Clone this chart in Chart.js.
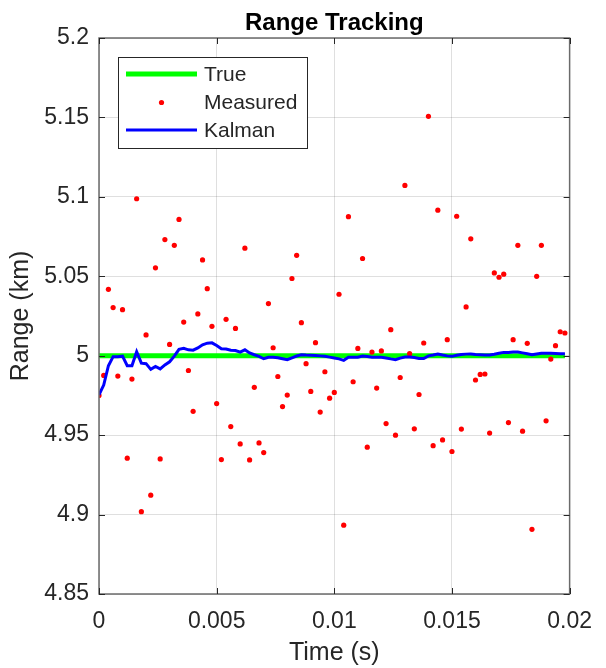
<!DOCTYPE html>
<html>
<head>
<meta charset="utf-8">
<script src="https://cdn.jsdelivr.net/npm/chart.js@4.4.1/dist/chart.umd.min.js"></script>
<style>
  html, body { margin: 0; padding: 0; background: #ffffff; }
  #wrap { width: 606px; height: 668px; }
</style>
</head>
<body>
<div id="wrap"><canvas id="rangeChart" width="606" height="668"></canvas></div>
<script>
// sample spacing of the filter (s)
var dt = 0.0002;

var measured = [
  4.975, 4.9876, 5.0418, 5.0303, 4.9872, 5.029, 4.9355, 4.9853, 5.0988, 4.9018,
  5.0131, 4.9122, 5.0553, 4.935, 5.0731, 5.0071, 5.0695, 5.0858, 5.0212, 4.9907,
  4.965, 5.0263, 5.0603, 5.0422, 5.0185, 4.9699, 4.9346, 5.0229, 4.9554, 5.0172,
  4.9445, 5.0677, 4.9344, 4.9801, 4.9451, 4.939, 5.0328, 5.005, 4.9869, 4.968,
  4.9752, 5.0486, 5.0632, 5.0208, 4.995, 4.9775, 5.0082, 4.9645, 4.9899, 4.9733,
  4.9769, 5.0387, 4.8933, 5.0875, 4.9836, 5.0046, 5.0612, 4.9424, 5.0023, 4.9796,
  5.003, 4.9573, 5.0164, 4.95, 4.9863, 5.1072, 5.0013, 4.954, 4.9756, 5.008,
  5.1507, 4.9434, 5.0916, 4.947, 5.0101, 4.9397, 5.0878, 4.9538, 5.0307, 5.0736,
  4.9847, 4.9882, 4.9885, 4.9513, 5.0521, 5.0494, 5.0513, 4.9579, 5.0101, 5.0695,
  4.9525, 5.0078, 4.8907, 5.05, 5.0695, 4.959, 4.9979, 5.0063, 5.0151, 5.0143
];

var kalman = [
  4.9754, 4.9815, 4.9937, 4.9994, 4.9994, 4.9997, 4.9937, 4.9937, 5.0025, 4.9953,
  4.995, 4.9914, 4.9932, 4.9917, 4.9942, 4.9962, 4.9997, 5.004, 5.0047, 5.0037,
  5.0035, 5.0049, 5.0069, 5.0079, 5.0081, 5.0064, 5.0044, 5.0042, 5.0034, 5.0033,
  5.0023, 5.0037, 5.0017, 5.0006, 4.9996, 4.9981, 4.999, 4.9991, 4.9987, 4.9981,
  4.9975, 4.9987, 4.9998, 5.0006, 5.0004, 5.0003, 5.0002, 4.9999, 4.9996, 4.9991,
  4.9986, 4.998, 4.9971, 4.999, 4.9991, 4.9991, 4.9998, 4.9995, 4.9991, 4.9991,
  4.999, 4.9986, 4.998, 4.9975, 4.9985, 4.9992, 4.9992, 4.9989, 4.9983, 4.9982,
  4.9999, 5.0004, 5.001, 5.0004, 4.9999, 4.9996, 5.0003, 5.0008, 5.001, 5.0011,
  5.0008, 5.0006, 5.0004, 5.0004, 5.0009, 5.0016, 5.0021, 5.0021, 5.0023, 5.0023,
  5.0018, 5.0012, 5.0006, 5.0011, 5.0016, 5.0016, 5.0015, 5.0014, 5.0013, 5.0013
];

// true range is constant over the run
var trueTimes = [0, 0.0198];
var trueRange = [5, 5];

var xTicks = [0, 0.005, 0.01, 0.015, 0.02];
var xTickLabels = ["0", "0.005", "0.01", "0.015", "0.02"];
var yTicks = [4.85, 4.9, 4.95, 5, 5.05, 5.1, 5.15, 5.2];
var yTickLabels = ["4.85", "4.9", "4.95", "5", "5.05", "5.1", "5.15", "5.2"];

var FONT = "'Liberation Sans', Arial, Helvetica, sans-serif";
var AXIS_COLOR = "#262626";

function toPoints(xs, ys) {
  var pts = [];
  for (var i = 0; i < ys.length; i++) pts.push({ x: xs[i], y: ys[i] });
  return pts;
}
var times = [];
for (var i = 0; i < measured.length; i++) times.push(i * dt);

// box round the axes with inward ticks, like the original figure
var framePlugin = {
  id: "frame",
  afterDatasetsDraw: function (chart) {
    var ctx = chart.ctx, a = chart.chartArea;
    var xs = chart.scales.x, ys = chart.scales.y;
    var tl = 6;
    ctx.save();
    ctx.strokeStyle = "#6b6b6b";
    ctx.lineWidth = 1.5;
    ctx.strokeRect(a.left, a.top, a.right - a.left, a.bottom - a.top);
    ctx.strokeStyle = AXIS_COLOR;
    ctx.lineWidth = 1;
    ctx.beginPath();
    xTicks.forEach(function (v) {
      var px = Math.round(xs.getPixelForValue(v)) + 0.5;
      ctx.moveTo(px, a.bottom); ctx.lineTo(px, a.bottom - tl);
      ctx.moveTo(px, a.top); ctx.lineTo(px, a.top + tl);
    });
    yTicks.forEach(function (v) {
      var py = Math.round(ys.getPixelForValue(v)) + 0.5;
      ctx.moveTo(a.left, py); ctx.lineTo(a.left + tl, py);
      ctx.moveTo(a.right, py); ctx.lineTo(a.right - tl, py);
    });
    ctx.stroke();
    ctx.restore();
  }
};

// legend box in the upper left corner of the axes
var legendPlugin = {
  id: "boxLegend",
  afterDraw: function (chart) {
    var ctx = chart.ctx, a = chart.chartArea;
    var bx = a.left + 19, by = a.top + 19, bw = 189, bh = 91;
    var rows = [17, 45.5, 73];
    ctx.save();
    ctx.fillStyle = "#ffffff";
    ctx.fillRect(bx, by, bw, bh);
    ctx.strokeStyle = AXIS_COLOR;
    ctx.lineWidth = 1;
    ctx.strokeRect(bx + 0.5, by + 0.5, bw, bh);
    ctx.font = "21px " + FONT;
    ctx.textBaseline = "middle";
    ctx.textAlign = "left";
    chart.data.datasets.forEach(function (ds, i) {
      var y = by + rows[i];
      if (ds.showLine) {
        ctx.strokeStyle = ds.borderColor;
        ctx.lineWidth = ds.borderWidth;
        ctx.beginPath();
        ctx.moveTo(bx + 8, y);
        ctx.lineTo(bx + 79, y);
        ctx.stroke();
      } else {
        ctx.fillStyle = ds.pointBackgroundColor;
        ctx.beginPath();
        ctx.arc(bx + 43.5, y, 2.6, 0, Math.PI * 2);
        ctx.fill();
      }
      ctx.fillStyle = AXIS_COLOR;
      ctx.fillText(ds.label, bx + 86, y + 1);
    });
    ctx.restore();
  }
};

Chart.defaults.color = AXIS_COLOR;
Chart.defaults.font.family = FONT;

var ctx = document.getElementById("rangeChart").getContext("2d");
var rangeChart = new Chart(ctx, {
  type: "scatter",
  data: {
    datasets: [
      {
        label: "True",
        data: toPoints(trueTimes, trueRange),
        showLine: true,
        borderColor: "#00ff00",
        backgroundColor: "#00ff00",
        borderWidth: 5,
        pointRadius: 0,
        order: 3
      },
      {
        label: "Measured",
        data: toPoints(times, measured),
        showLine: false,
        pointRadius: 2.6,
        pointBorderWidth: 0,
        pointBackgroundColor: "#ff0000",
        backgroundColor: "#ff0000",
        borderColor: "#ff0000",
        order: 2
      },
      {
        label: "Kalman",
        data: toPoints(times, kalman),
        showLine: true,
        borderColor: "#0000ff",
        backgroundColor: "#0000ff",
        borderWidth: 3,
        pointRadius: 0,
        tension: 0,
        order: 1
      }
    ]
  },
  options: {
    responsive: false,
    animation: false,
    devicePixelRatio: 1,
    layout: { padding: { left: 0, right: 25, top: 0, bottom: 0 } },
    plugins: {
      legend: { display: false },
      tooltip: { enabled: false },
      title: {
        display: true,
        text: "Range Tracking",
        fullSize: false,
        color: "#000000",
        font: { size: 24, weight: "bold", family: FONT },
        padding: { top: 9.2, bottom: 0 }
      }
    },
    scales: {
      x: {
        type: "linear",
        min: 0,
        max: 0.02,
        border: { display: false },
        grid: { color: "rgba(38,38,38,0.15)", drawTicks: false, lineWidth: 1 },
        afterBuildTicks: function (scale) {
          scale.ticks = xTicks.map(function (v) { return { value: v }; });
        },
        afterFit: function (scale) { scale.height = 74; },
        ticks: {
          padding: 14,
          maxRotation: 0,
          font: { size: 23 },
          callback: function (v, i) { return xTickLabels[i]; }
        },
        title: {
          display: true,
          text: "Time (s)",
          font: { size: 25 },
          padding: { top: 0, bottom: 0 }
        }
      },
      y: {
        type: "linear",
        min: 4.85,
        max: 5.2,
        border: { display: false },
        grid: { color: "rgba(38,38,38,0.15)", drawTicks: false, lineWidth: 1 },
        afterBuildTicks: function (scale) {
          scale.ticks = yTicks.map(function (v) { return { value: v }; });
        },
        afterFit: function (scale) { scale.width = 99; },
        ticks: {
          padding: 10,
          font: { size: 23 },
          callback: function (v, i) { return yTickLabels[i]; }
        },
        title: {
          display: true,
          text: "Range (km)",
          font: { size: 25 },
          padding: { top: 6, bottom: 6 }
        }
      }
    }
  },
  plugins: [framePlugin, legendPlugin]
});
</script>
</body>
</html>
